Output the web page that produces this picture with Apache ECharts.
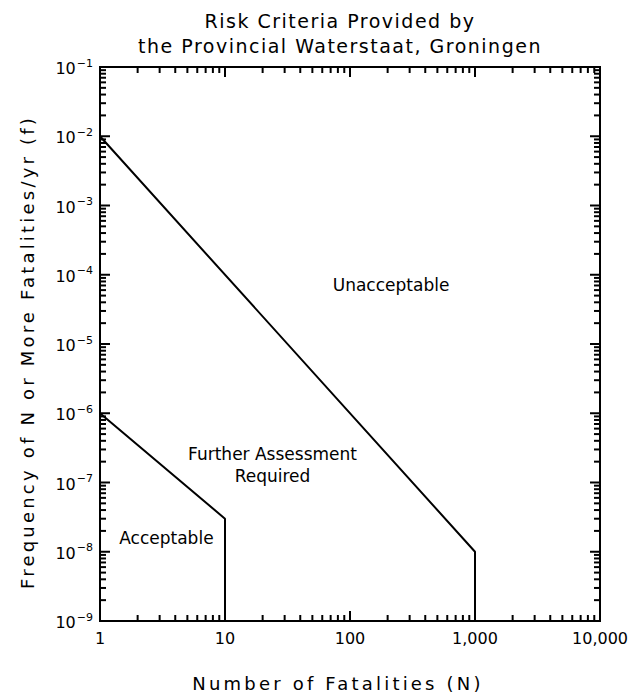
<!DOCTYPE html>
<html>
<head>
<meta charset="utf-8">
<title>Risk Criteria - Provincial Waterstaat, Groningen</title>
<script src="https://cdn.jsdelivr.net/npm/echarts@6/dist/echarts.min.js"></script>
<style>
  html, body { margin: 0; padding: 0; background: #fff; }
  #chart { width: 632px; height: 694px; }
  /* wide, plotter-style spacing for the title and axis titles */
  #chart text[style*="19px"] { letter-spacing: 1.5px; }
  #chart text[style*="18px"] { letter-spacing: 3.2px; }
</style>
</head>
<body>
<div id="chart"></div>
<script>
// F-N criterion lines (N = number of fatalities, f = frequency per year)
const upperLimitN = [1, 1000, 1000];
const upperLimitF = [1e-2, 1e-8, 1e-9];
const lowerLimitN = [1, 10, 10];
const lowerLimitF = [1e-6, 3e-8, 1e-9];

// Region captions and where they sit (data coordinates)
const regionNames = ['Unacceptable', 'Further Assessment\nRequired', 'Acceptable'];
const regionN = [213, 24, 3.4];
const regionF = [7.1e-5, 1.8e-7, 1.6e-8];

// Tick labels
const xTickLabels = ['1', '10', '100', '1,000', '10,000'];
const yTickExponents = ['\u22129', '\u22128', '\u22127', '\u22126', '\u22125', '\u22124', '\u22123', '\u22122', '\u22121'];

const FONT = 'DejaVu Sans';
const X_MIN = 1, X_MAX = 10000, Y_MIN = 1e-9, Y_MAX = 1e-1;

const chart = echarts.init(document.getElementById('chart'), null, { renderer: 'svg' });

function pairs(xs, ys) { return xs.map((x, i) => [x, ys[i]]); }

// Decade (major) and 2..9 (minor) tick values between two powers of ten
function logTicks(lo, hi) {
  const major = [], minor = [];
  const e0 = Math.round(Math.log10(lo)), e1 = Math.round(Math.log10(hi));
  for (let e = e0; e <= e1; e++) {
    const base = Math.pow(10, e);
    major.push(base);
    if (e < e1) for (let m = 2; m <= 9; m++) minor.push(m * base);
  }
  return { major, minor };
}

// Inward ticks on all four sides of the frame
function renderFrameTicks(params, api) {
  const children = [];
  const xt = logTicks(X_MIN, X_MAX), yt = logTicks(Y_MIN, Y_MAX);
  const MAJ = 10, MIN = 6;
  const style = { stroke: '#000', lineWidth: 2 };
  const add = (x1, y1, x2, y2) => children.push({ type: 'line', shape: { x1, y1, x2, y2 }, style });
  const xTick = (v, len) => {
    const b = api.coord([v, Y_MIN]), t = api.coord([v, Y_MAX]);
    add(b[0], b[1], b[0], b[1] - len);
    add(t[0], t[1], t[0], t[1] + len);
  };
  const yTick = (v, len) => {
    const l = api.coord([X_MIN, v]), r = api.coord([X_MAX, v]);
    add(l[0], l[1], l[0] + len, l[1]);
    add(r[0], r[1], r[0] - len, r[1]);
  };
  xt.major.forEach(v => xTick(v, MAJ));
  xt.minor.forEach(v => xTick(v, MIN));
  yt.major.forEach(v => yTick(v, MAJ));
  yt.minor.forEach(v => yTick(v, MIN));
  return { type: 'group', children };
}

const lineStyle = { color: '#000', width: 2 };

chart.setOption({
  animation: false,
  backgroundColor: '#fff',
  grid: {
    left: 100, top: 67, width: 500, height: 554,
    show: true, borderColor: '#000', borderWidth: 2, backgroundColor: 'transparent'
  },
  xAxis: {
    type: 'log', logBase: 10, min: X_MIN, max: X_MAX, interval: 1,
    axisLine: { show: false }, axisTick: { show: false }, splitLine: { show: false },
    axisLabel: {
      margin: 9, color: '#000', fontFamily: FONT, fontSize: 16,
      formatter: v => xTickLabels[Math.round(Math.log10(v))]
    }
  },
  yAxis: {
    type: 'log', logBase: 10, min: Y_MIN, max: Y_MAX, interval: 1,
    axisLine: { show: false }, axisTick: { show: false }, splitLine: { show: false },
    axisLabel: {
      margin: 7, color: '#000', fontFamily: FONT,
      formatter: v => '{b|10}{e|' + yTickExponents[Math.round(Math.log10(v)) + 9] + '}',
      rich: {
        b: { fontSize: 16, fontFamily: FONT, color: '#000', verticalAlign: 'bottom' },
        e: { fontSize: 11, fontFamily: FONT, color: '#000', verticalAlign: 'bottom', padding: [0, 0, 8, 1] }
      }
    }
  },
  graphic: [
    {
      type: 'text', x: 340, y: 8,
      style: {
        text: 'Risk Criteria Provided by\nthe Provincial Waterstaat, Groningen',
        textAlign: 'center', fill: '#000',
        font: '19px "DejaVu Sans"', lineHeight: 25
      }
    },
    {
      type: 'text', x: 338, y: 683,
      style: {
        text: 'Number of Fatalities (N)', textAlign: 'center', textVerticalAlign: 'middle',
        fill: '#000', font: '18px "DejaVu Sans"'
      }
    },
    {
      type: 'text', x: 27, y: 352, rotation: Math.PI / 2,
      style: {
        text: 'Frequency of N or More Fatalities/yr (f)', textAlign: 'center', textVerticalAlign: 'middle',
        fill: '#000', font: '18px "DejaVu Sans"'
      }
    }
  ],
  series: [
    {
      type: 'custom', renderItem: renderFrameTicks, data: [[X_MIN, Y_MIN]],
      clip: false, silent: true, z: 1
    },
    {
      name: 'Upper limit', type: 'line', data: pairs(upperLimitN, upperLimitF),
      symbol: 'none', lineStyle, z: 3
    },
    {
      name: 'Lower limit', type: 'line', data: pairs(lowerLimitN, lowerLimitF),
      symbol: 'none', lineStyle, z: 3
    },
    {
      name: 'Regions', type: 'scatter', symbolSize: 0, silent: true,
      itemStyle: { opacity: 1, color: '#000' },
      data: regionNames.map((n, i) => ({ name: n, value: [regionN[i], regionF[i]] })),
      label: {
        show: true, position: 'inside', formatter: p => p.name, opacity: 1,
        color: '#000', fontFamily: FONT, fontSize: 17, lineHeight: 22, align: 'center'
      }
    }
  ]
});
</script>
</body>
</html>
